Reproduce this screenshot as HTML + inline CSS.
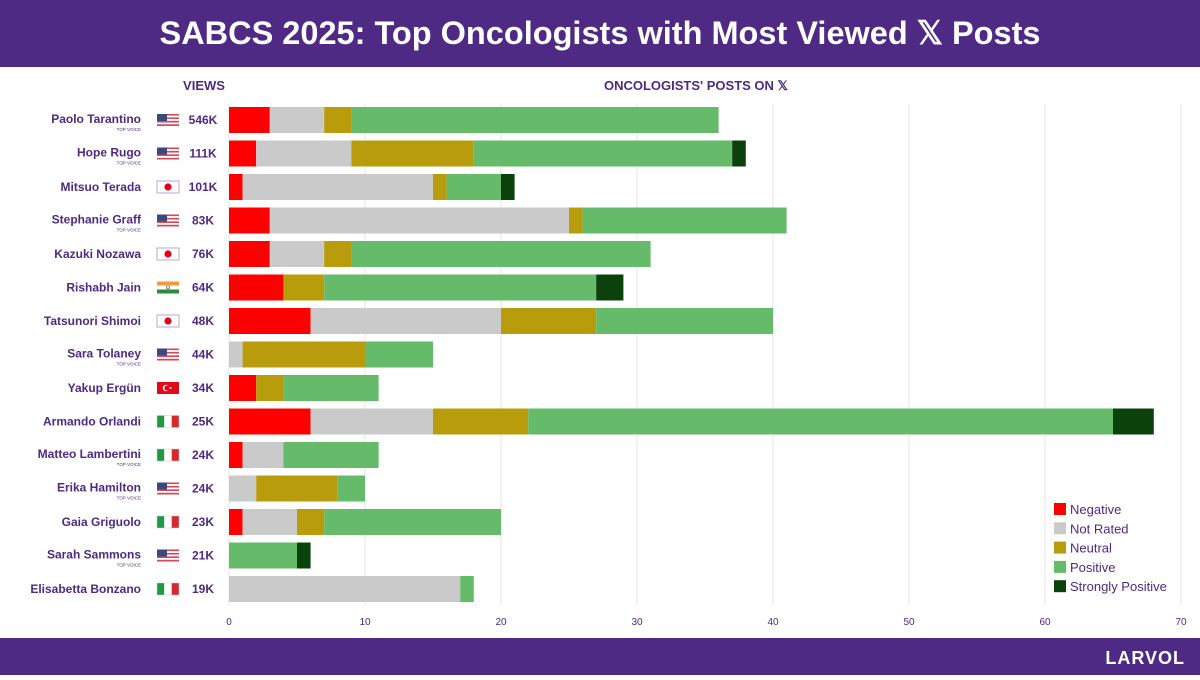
<!DOCTYPE html>
<html><head><meta charset="utf-8"><style>
body{margin:0;width:1200px;height:675px;overflow:hidden;background:#fff;font-family:"Liberation Sans",sans-serif}
</style></head><body>
<svg id="c" width="1200" height="675" xmlns="http://www.w3.org/2000/svg">
<rect x="0" y="0" width="1200" height="67" fill="#4e2a84"/>
<text x="600" y="44" text-anchor="middle" font-size="32.5" font-weight="bold" fill="#fff">SABCS 2025: Top Oncologists with Most Viewed 𝕏 Posts</text>
<rect x="0" y="638" width="1200" height="37" fill="#4e2a84"/>
<text x="1185" y="664" text-anchor="end" font-size="18" font-weight="bold" fill="#fff" letter-spacing="1">LARVOL</text>
<text x="204" y="90" text-anchor="middle" font-size="13" font-weight="bold" fill="#4e2a84">VIEWS</text>
<text x="696" y="90" text-anchor="middle" font-size="13" font-weight="bold" fill="#4e2a84">ONCOLOGISTS' POSTS ON 𝕏</text>
<g id="grid"></g><g id="bars"></g><g id="labels"></g><g id="legend"></g>
</svg>
<script>
const names=["Paolo Tarantino","Hope Rugo","Mitsuo Terada","Stephanie Graff","Kazuki Nozawa","Rishabh Jain","Tatsunori Shimoi","Sara Tolaney","Yakup Ergün","Armando Orlandi","Matteo Lambertini","Erika Hamilton","Gaia Griguolo","Sarah Sammons","Elisabetta Bonzano"];
const views=["546K","111K","101K","83K","76K","64K","48K","44K","34K","25K","24K","24K","23K","21K","19K"];
const countries=["us","us","jp","us","jp","in","jp","us","tr","it","it","us","it","us","it"];
const topVoice=[true,true,false,true,false,false,false,true,false,false,true,true,false,true,false];
const negative=[3,2,1,3,3,4,6,0,2,6,1,0,1,0,0];
const notRated=[4,7,14,22,4,0,14,1,0,9,3,2,4,0,17];
const neutral=[2,9,1,1,2,3,7,9,2,7,0,6,2,0,0];
const positive=[27,19,4,15,22,20,13,5,7,43,7,2,13,5,1];
const stronglyPositive=[0,1,1,0,0,2,0,0,0,3,0,0,0,1,0];
const ticks=[0,10,20,30,40,50,60,70];
const seriesNames=["Negative","Not Rated","Neutral","Positive","Strongly Positive"];
const colors=["#ff0000","#cacaca","#b89c0b","#66bb6a","#0b420b"];
const series=[negative,notRated,neutral,positive,stronglyPositive];
const NS="http://www.w3.org/2000/svg";
const x=v=>229+v*13.6;
const yc=i=>120+i*33.5;
function mk(parent,tag,attrs){const e=document.createElementNS(NS,tag);for(const k in attrs)e.setAttribute(k,attrs[k]);document.getElementById(parent).appendChild(e);return e;}
ticks.forEach(t=>{
 const l=mk('grid','line',{x1:x(t),x2:x(t),y1:104,y2:604,stroke:'#e6e6e6','stroke-width':1});
 
 
 const tx=mk('grid','text',{x:x(t),y:625,'text-anchor':'middle','font-size':10,fill:'#4e2a84'});
 tx.textContent=t;
 
 
});
names.forEach((n,i)=>{
 let acc=0;
 series.forEach((s,j)=>{
  const v=s[i];
  if(v>0){const r=mk('bars','rect',{x:x(acc),y:yc(i)-13,width:x(acc+v)-x(acc),height:26,fill:colors[j]});
  
  }
  acc+=v;
 });
 const t=mk('labels','text',{x:141,y:yc(i)+(topVoice[i]?3:4),'text-anchor':'end','font-size':12,'font-weight':'bold',fill:'#4e2a84'});
 t.textContent=n;
 
 
 if(topVoice[i]){const tv=mk('labels','text',{x:141,y:yc(i)+11,'text-anchor':'end','font-size':4.5,fill:'#4e2a84'});tv.textContent='TOP VOICE';
 
 }
 const v=mk('labels','text',{x:203,y:yc(i)+4,'text-anchor':'middle','font-size':12,'font-weight':'bold',fill:'#4e2a84'});
 v.textContent=views[i];
 
 
 const g=mk('labels','g',{transform:`translate(157,${yc(i)-6})`});
 
 
 const c=countries[i];let h='';
 if(c==='us'){for(let k=0;k<7;k++)h+=`<rect x="0" y="${k*12/7}" width="22" height="${12/7}" fill="${k%2?'#fff':'#d24a5a'}"/>`;h+='<rect x="0" y="0" width="10" height="7" fill="#3b4a7a"/>';}
 else if(c==='jp'){h='<rect width="22" height="12" fill="#fff" stroke="#b9a6d6"/><circle cx="11" cy="6" r="3.6" fill="#e0001a"/>';}
 else if(c==='in'){h='<rect width="22" height="4" fill="#f39a36"/><rect y="4" width="22" height="4" fill="#fff"/><rect y="8" width="22" height="4" fill="#2e8b3a"/><circle cx="11" cy="6" r="1.5" fill="none" stroke="#1a3a8a" stroke-width="0.6"/>';}
 else if(c==='tr'){h='<rect width="22" height="12" fill="#e30a17"/><circle cx="9" cy="6" r="3.2" fill="#fff"/><circle cx="10" cy="6" r="2.6" fill="#e30a17"/><circle cx="13.5" cy="6" r="1" fill="#fff"/>';}
 else if(c==='it'){h='<rect width="7.3" height="12" fill="#1e9a45"/><rect x="7.3" width="7.4" height="12" fill="#fff"/><rect x="14.7" width="7.3" height="12" fill="#d52b2e"/><rect width="22" height="12" fill="none" stroke="#ccc" stroke-width="0.5"/>';}
 g.innerHTML=h;
});
seriesNames.forEach((s,j)=>{
 const yy=503+j*19.3;
 const r=mk('legend','rect',{x:1054,y:yy,width:12,height:12,fill:colors[j]});
 
 
 const t=mk('legend','text',{x:1070,y:yy+11,'font-size':13,fill:'#4e2a84'});
 t.textContent=s;
 
 
});
</script>
</body></html>
